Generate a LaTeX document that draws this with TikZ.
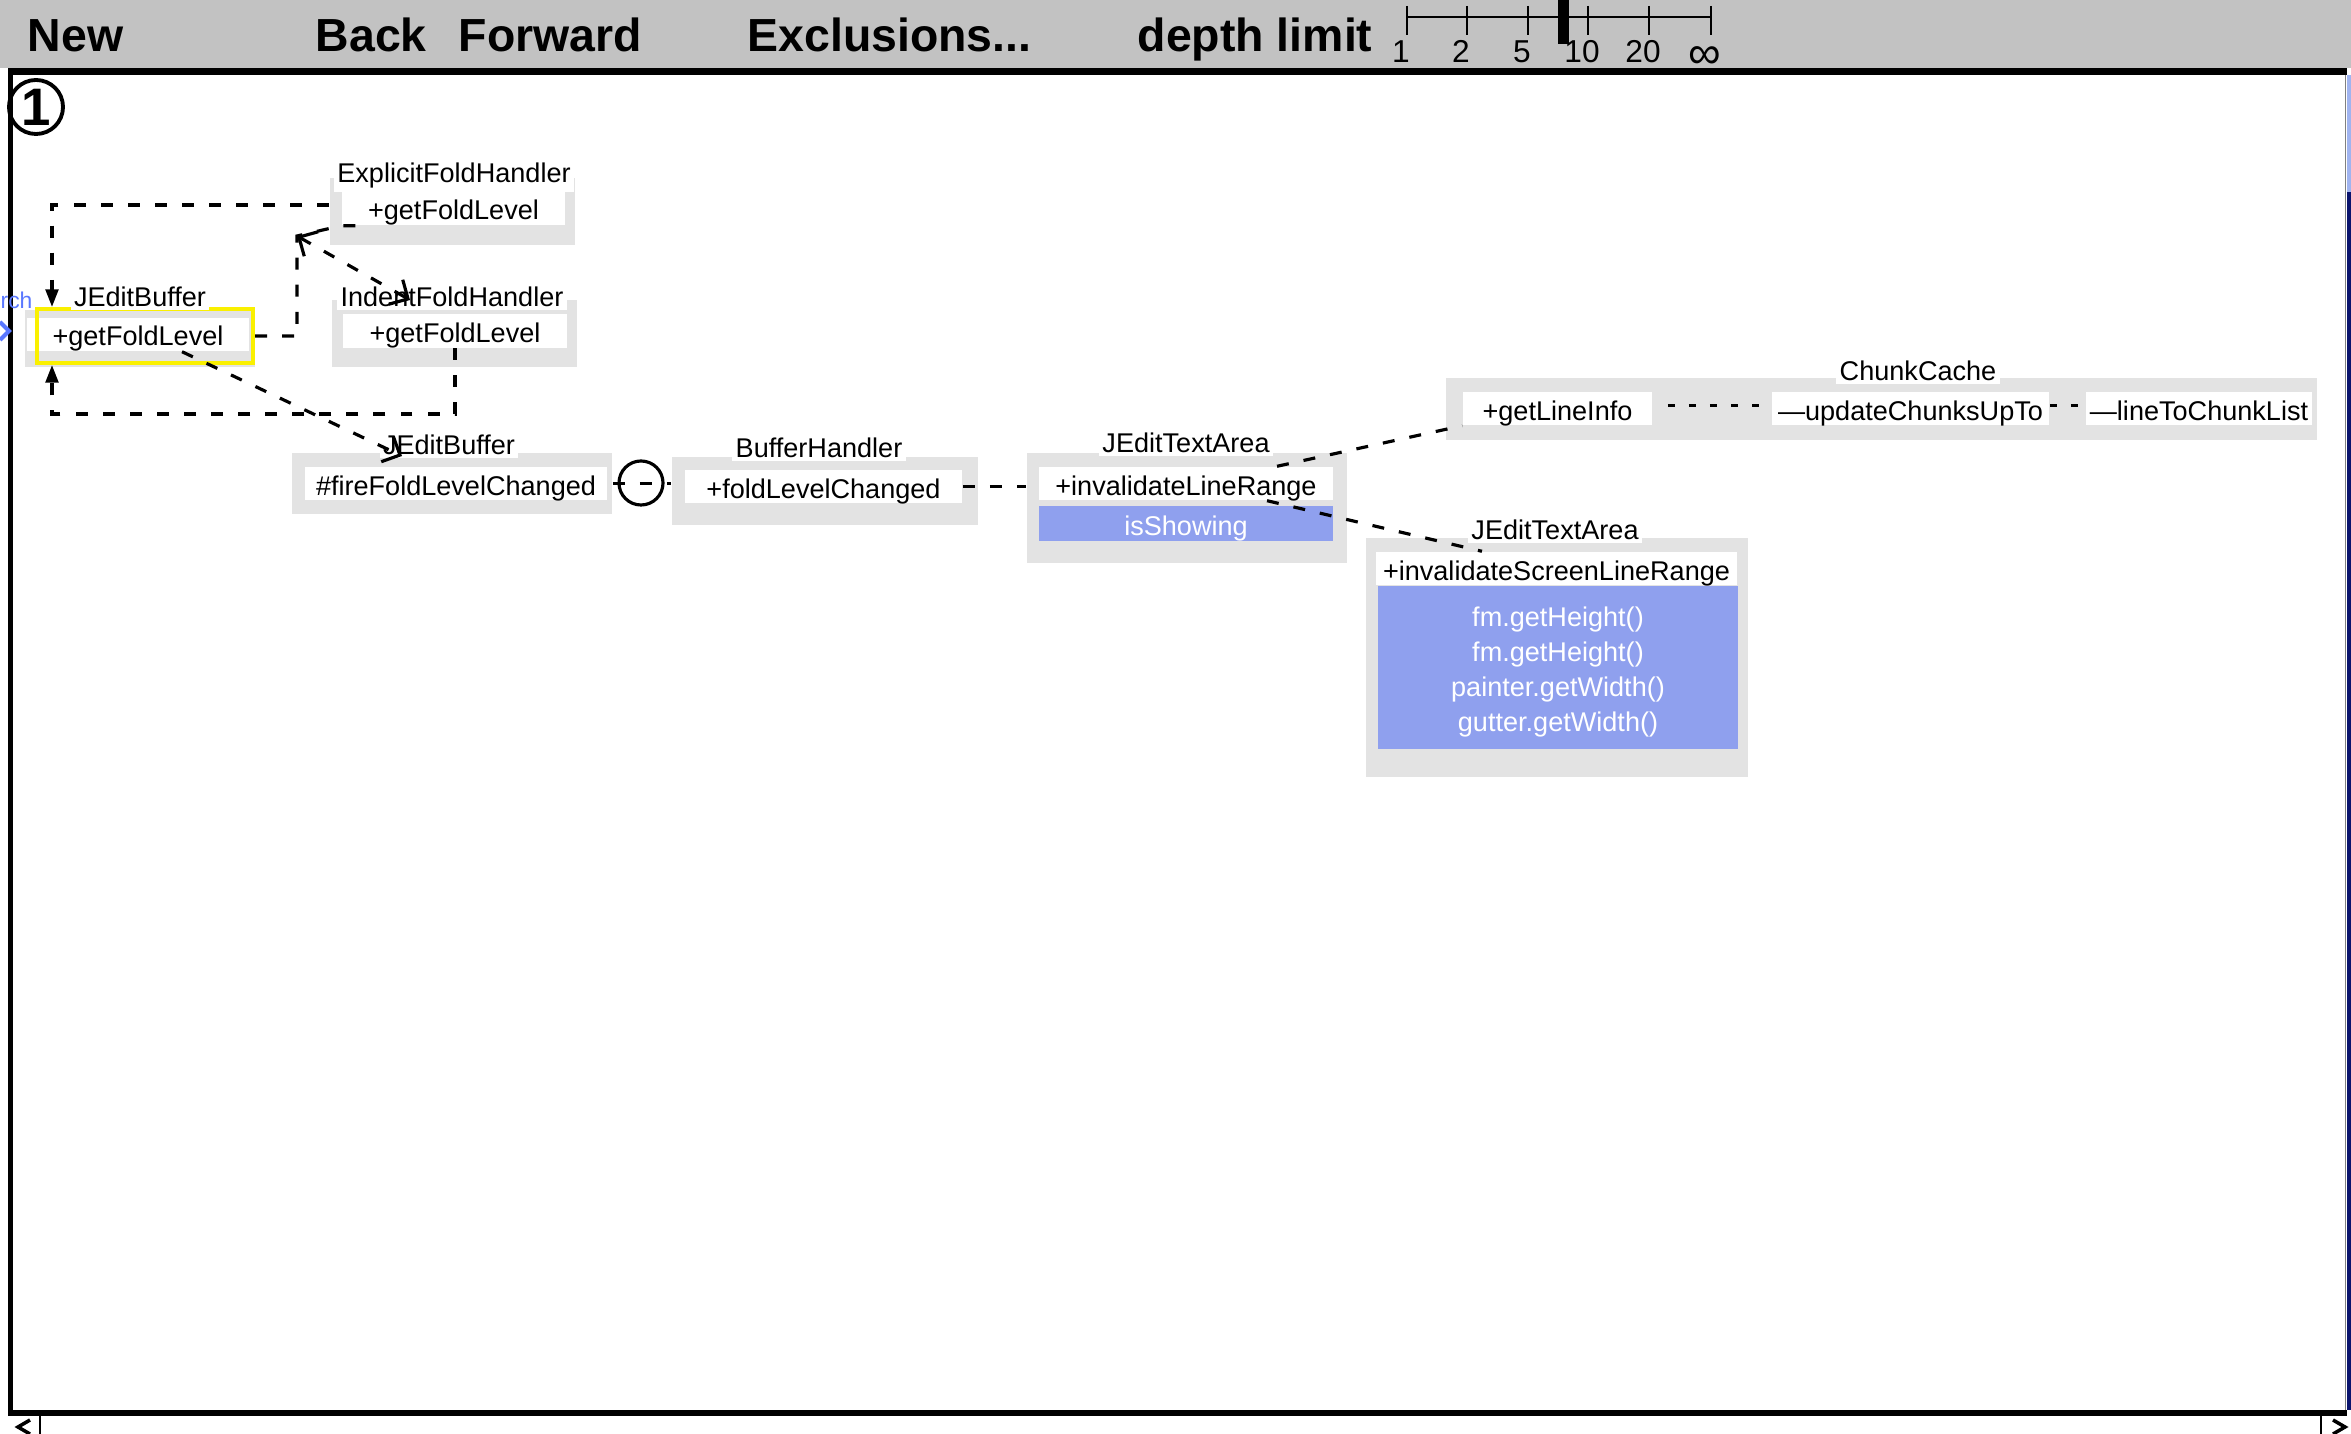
\documentclass[tikz,border=0pt]{standalone}
\usepackage{fontspec}
\setmainfont{Liberation Sans}
\usetikzlibrary{arrows.meta}
\definecolor{barbg}{RGB}{194,194,194}
\definecolor{clsbg}{RGB}{227,227,227}
\definecolor{hotbg}{RGB}{143,160,238}
\definecolor{selbox}{RGB}{250,240,0}
\definecolor{linkblue}{RGB}{90,120,255}
\definecolor{navy}{RGB}{10,20,110}
\definecolor{paleblue}{RGB}{160,180,240}

\begin{document}
\begin{tikzpicture}[x=0.01cm,y=-0.01cm,
  every node/.style={font=\fontsize{7.7}{9.9}\selectfont,inner sep=0pt},
  cls/.style={fill=clsbg},
  clsname/.style={fill=white,inner sep=1pt},
  meth/.style={fill=white,minimum height=0.33cm,text height=2.3mm,text depth=0pt},
  hot/.style={fill=hotbg,text=white,align=center},
  menu/.style={font=\fontsize{13.2}{16}\selectfont\bfseries,anchor=base west},
  call/.style={dash pattern=on 3.4pt off 4.3pt,line width=0.9pt},
  calltip/.style={-{Triangle[length=5pt,width=3.6pt]}}]
  \useasboundingbox (0,0) rectangle (2351,1434);
  % toolbar and frame
  \fill[barbg] (0,0) rectangle (2351,68);
  \fill (8,68) rectangle (2347,75);
  \fill (8,68) rectangle (13,1416);
  \fill (8,1410) rectangle (2347,1416);
  \fill[paleblue] (2347,75) rectangle (2351,192);
  \fill[navy] (2347,192) rectangle (2351,1410);
  \draw[gray,line width=0.3pt] (2345,75) -- (2345,1410);
  \draw[line width=0.8pt] (40,1416) -- (40,1434);
  \draw[line width=1pt] (30,1420) -- (18,1427) -- (30,1434);
  \draw[line width=0.8pt] (2321,1416) -- (2321,1434);
  \draw[line width=1pt] (2333,1420) -- (2345,1427) -- (2333,1434);
  \node[menu] (new) at (27,52) {New};
  \node[menu] (back) at (315,52) {Back};
  \node[menu] (fwd) at (458,52) {Forward};
  \node[menu] (excl) at (747,52) {Exclusions...};
  \node[menu] (depth) at (1137,52) {depth limit};
  % depth scale
  \draw[line width=0.6pt] (1407,17) -- (1711,17);
  \foreach \x/\l in {1407/1,1467/2,1528/5,1588/10,1649/20,1711/{\raisebox{-1.5pt}{\fontsize{13}{10}\selectfont ∞}}} {
    \draw[line width=0.6pt] (\x,6) -- (\x,35);
    \node[font=\fontsize{9}{10}\selectfont,anchor=base] at (\x-6,63) {\l};
  }
  \fill (1558,0) rectangle (1569,44);
  % frame number and search tab
  \node[draw,circle,line width=1.1pt,minimum size=0.54cm,
    font=\fontsize{15}{15}\selectfont\bfseries] (one) at (36,107) {1};
  \node[text=linkblue,anchor=west,font=\fontsize{6.5}{7}\selectfont] (srch) at (0,300) {rch};
  \draw[linkblue,line width=1.2pt] (0,322) -- (9,331) -- (0,340);

  % JEditBuffer (selected)
  \node[cls,minimum width=2.30cm,minimum height=0.57cm] (JBg) at (140,338.5) {};
  \node[meth,minimum width=2.22cm] (JBm) at (138,334.5) {+getFoldLevel};
  \node[draw=selbox,line width=1.15pt,minimum width=2.16cm,minimum height=0.54cm] (JB) at (145,336) {};
  \node[clsname] (JBn) at (140,297) {JEditBuffer};
  % ExplicitFoldHandler
  \node[cls,minimum width=2.45cm,minimum height=0.67cm] (EF) at (452.5,211.5) {};
  \node[meth,minimum width=2.23cm] (EFm) at (453.5,208.5) {+getFoldLevel};
  \node[clsname] (EFn) at (454,176) {ExplicitFoldHandler};
  % IndentFoldHandler
  \node[cls,minimum width=2.45cm,minimum height=0.67cm] (IF) at (454.5,333.5) {};
  \node[meth,minimum width=2.24cm] (IFm) at (455,331) {+getFoldLevel};
  \node[clsname] (IFn) at (452,297) {IndentFoldHandler};
  % JEditBuffer
  \node[cls,minimum width=3.20cm,minimum height=0.61cm] (FB) at (452,483.5) {};
  \node[meth,minimum width=3.02cm] (FBm) at (456,483.5) {\#fireFoldLevelChanged};
  \node[clsname] (FBn) at (449,445) {JEditBuffer};
  % BufferHandler
  \node[cls,minimum width=3.06cm,minimum height=0.68cm] (BH) at (825,491) {};
  \node[meth,minimum width=2.77cm] (BHm) at (823.5,486.5) {+foldLevelChanged};
  \node[clsname] (BHn) at (819,448) {BufferHandler};
  % JEditTextArea
  \node[cls,minimum width=3.20cm,minimum height=1.10cm] (TA) at (1187,508) {};
  \node[meth,minimum width=2.94cm] (TAm) at (1186,483.5) {+invalidateLineRange};
  \node[meth,hot,minimum width=2.94cm,minimum height=0.35cm] (TAh) at (1186,523.5) {isShowing};
  \node[clsname] (TAn) at (1186,443) {JEditTextArea};
  % ChunkCache
  \node[cls,minimum width=8.71cm,minimum height=0.62cm] (CC) at (1881.5,409) {};
  \node[meth,minimum width=1.89cm] (CCa) at (1557.5,408.5) {+getLineInfo};
  \node[meth,minimum width=2.77cm] (CCb) at (1910.5,408.5) {—updateChunksUpTo};
  \node[meth,minimum width=2.26cm] (CCc) at (2199,408.5) {—lineToChunkList};
  \node[clsname] (CCn) at (1918,371) {ChunkCache};
  % JEditTextArea (screen lines)
  \node[cls,minimum width=3.82cm,minimum height=2.39cm] (SA) at (1557,657.5) {};
  \node[meth,minimum width=3.61cm] (SAm) at (1556.5,568.5) {+invalidateScreenLineRange};
  \node[hot,minimum width=3.60cm,minimum height=1.63cm] (SAh) at (1558,667.5) {};
  \node[text=white,align=center] (SAt) at (1558,672)
    {fm.getHeight()\\fm.getHeight()\\painter.getWidth()\\gutter.getWidth()};
  \node[clsname] (SAn) at (1555,530) {JEditTextArea};

  % calls
  \coordinate (top) at (52,205);
  \coordinate (bot) at (52,414);
  \coordinate (fork) at (297,236);
  \coordinate (ifa) at (410,300);
  \coordinate (fba) at (402,456);
  \draw[call,calltip] (EF.west |- top) -- (top) -- (JB.north -| top);
  \draw[call,calltip] (IFm.south) |- (bot) -- (JB.south -| top);
  \draw[call] (JB.east) -| (fork) -- (EFm.south west) -- ++(18,0);
  \draw[call,{Straight Barb[length=4pt]}-{Straight Barb[length=4pt]}] (fork) -- (ifa);
  \draw[call,-{Straight Barb[length=4pt]}] ([xshift=4.4mm]JBm.south) -- (fba);
  \draw[call] (FB.east) -- (BH.west |- FB.east);
  \node[draw,circle,line width=0.9pt,minimum size=0.44cm] (loop) at (641,483) {};
  \draw[call] (BHm.east) -- (TA.west |- BHm.east);
  \draw[call] ([xshift=9.1mm]TAm.north) -- (CCa.south west);
  \draw[call] ([xshift=8.1mm]TAm.south) -- ([xshift=-7.45mm]SAm.north);
  \draw[call,dash pattern=on 2pt off 4pt] ([yshift=0.3mm,xshift=1.5mm]CCa.east) -- ([yshift=0.3mm]CCb.west);
  \draw[call,dash pattern=on 2pt off 4pt] ([yshift=0.3mm]CCb.east) -- ([yshift=0.3mm]CCc.west);
\end{tikzpicture}
\end{document}
